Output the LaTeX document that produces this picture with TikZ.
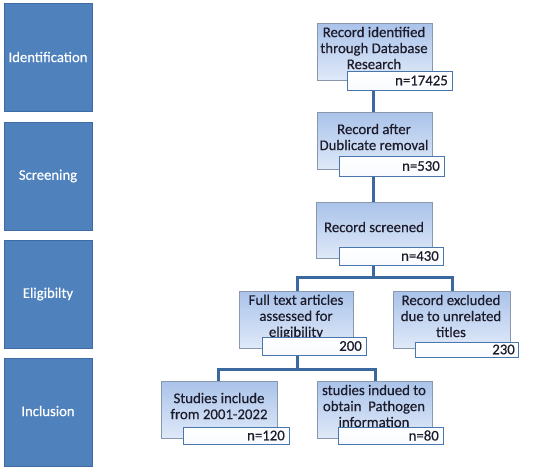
\documentclass[tikz,border=0pt]{standalone}
\usepackage{fontspec}
\setmainfont[FakeBold=0.4]{Carlito}
\usetikzlibrary{shadows}
\definecolor{stageblue}{HTML}{4F81BD}
\definecolor{stageedge}{HTML}{3E6BA3}
\definecolor{linkblue}{HTML}{3C68A0}
\definecolor{boxtop}{HTML}{AAC3EA}
\definecolor{boxbot}{HTML}{DFE9F8}
\definecolor{boxedge}{HTML}{8A98AE}
\definecolor{numedge}{HTML}{4A76AE}
\definecolor{txt}{HTML}{1C1C2C}
\tikzset{
  stage/.style={draw=stageedge, line width=0.8pt, fill=stageblue},
  stagetext/.style={text=white, font=\fontsize{14.7}{16}\selectfont},
  flowbox/.style={draw=boxedge, line width=0.8pt, top color=boxtop, bottom color=boxbot,
    drop shadow={shadow xshift=1.2pt, shadow yshift=-1.2pt, opacity=0.35}},
  flowtext/.style={text=txt, align=center, font=\fontsize{14.8}{16}\selectfont, inner sep=0pt},
  numbox/.style={draw=numedge, line width=1pt, top color=white, bottom color=white!92!boxtop},
  numtext/.style={text=txt, anchor=east, font=\fontsize{14.8}{16}\selectfont, inner sep=0pt},
  link/.style={draw=linkblue, line width=3pt}
}
\begin{document}
\begin{tikzpicture}[x=1pt, y=-1pt]
\useasboundingbox (0,0) rectangle (546,469);
% stage boxes
\path[stage] (4,3) rectangle (92,111);
\node[stagetext] (sid) at (48,57) {Identification};
\path[stage] (4,122) rectangle (92,230);
\node[stagetext] (ssc) at (48,176) {Screening};
\path[stage] (4,240) rectangle (92,348);
\node[stagetext] (sel) at (48,294) {Eligibilty};
\path[stage] (4,358) rectangle (92,466);
\node[stagetext] (sin) at (48,411) {Inclusion};

% connectors (drawn first, beneath boxes)
\coordinate (c1a) at (373,90);
\coordinate (c1b) at (373,112);
\coordinate (c2a) at (373,176);
\coordinate (c2b) at (373,202);
\coordinate (c3a) at (373,265);
\coordinate (h1) at (373,277);
\coordinate (h1l) at (297,277);
\coordinate (h1r) at (452,277);
\coordinate (d1l) at (297,291);
\coordinate (d1r) at (452,291);
\coordinate (c4a) at (297,355);
\coordinate (h2) at (297,369);
\coordinate (h2l) at (218,369);
\coordinate (h2r) at (375,369);
\coordinate (d2l) at (218,381);
\coordinate (d2r) at (375,381);
\draw[link] (c1a) -- (c1b);
\draw[link] (c2a) -- (c2b);
\draw[link] (c3a) -- (h1);
\draw[link] (d1l) -- (h1l) -- (h1r) -- (d1r);
\draw[link] (c4a) -- (h2);
\draw[link] (d2l) -- (h2l) -- (h2r) -- (d2r);

% box 1
\path[flowbox] (317,23) rectangle (432,80);
\node[flowtext] (t1) at (374,48) {Record identified\\through Database\\Research};
\path[numbox] (347,71) rectangle (452,90);
\node[numtext] (n1) at (448,80.5) {n=17425};

% box 2
\path[flowbox] (317,112) rectangle (432,169);
\node[flowtext] (t2) at (374,137) {Record after\\Dublicate removal};
\path[numbox] (339,156) rectangle (444,176);
\node[numtext] (n2) at (440,166) {n=530};

% box 3
\path[flowbox] (316,202) rectangle (432,258);
\node[flowtext] (t3) at (374,227) {Record screened};
\path[numbox] (339,247) rectangle (443,265);
\node[numtext] (n3) at (439,256) {n=430};

% box 4
\path[flowbox] (239,291) rectangle (353,348);
\node[flowtext] (t4) at (296,317) {Full text articles\\assessed for\\eligibility};
\path[numbox] (262,337) rectangle (366,355);
\node[numtext] (n4) at (362,346) {200};

% box 5
\path[flowbox] (393,291) rectangle (510,348);
\node[flowtext] (t5) at (451,316) {Record excluded\\due to unrelated\\titles};
\path[numbox] (415,342) rectangle (518,357);
\node[numtext] (n5) at (515,349.5) {230};

% box 6
\path[flowbox] (161,381) rectangle (277,438);
\node[flowtext] (t6) at (219,406) {Studies include\\from 2001-2022};
\path[numbox] (183,427) rectangle (289,444);
\node[numtext] (n6) at (285,435.5) {n=120};

% box 7
\path[flowbox] (317,381) rectangle (432,438);
\node[flowtext] (t7) at (374,406) {studies indued to\\obtain\ \ Pathogen\\information};
\path[numbox] (338,427) rectangle (443,444);
\node[numtext] (n7) at (439,435.5) {n=80};
\end{tikzpicture}
\end{document}
